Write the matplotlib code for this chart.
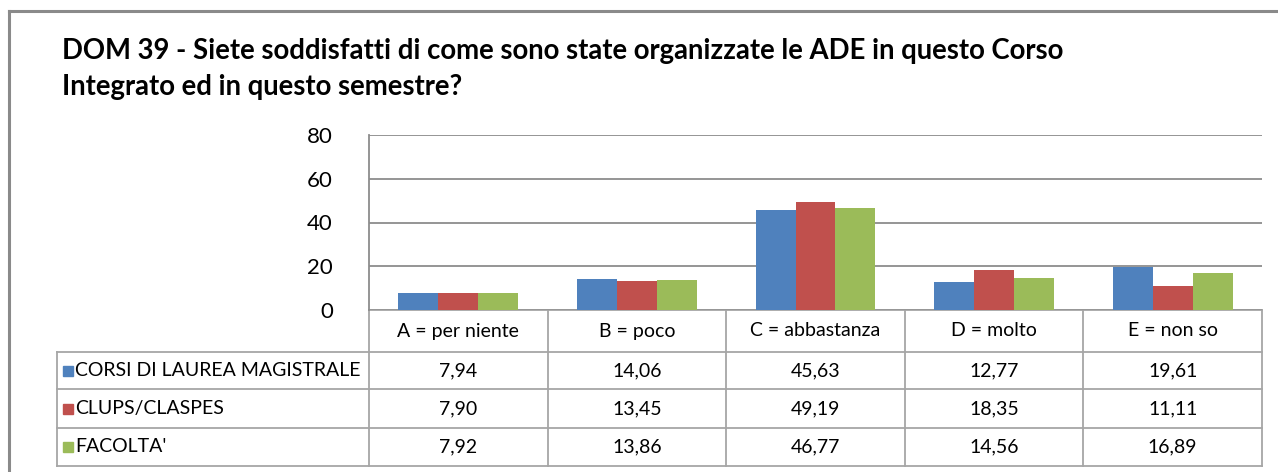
import matplotlib.pyplot as plt
from matplotlib.transforms import blended_transform_factory

categories = ["A = per niente", "B = poco", "C = abbastanza", "D = molto", "E = non so"]
series_names = ["CORSI DI LAUREA MAGISTRALE", "CLUPS/CLASPES", "FACOLTA'"]
corsi = [7.94, 14.06, 45.63, 12.77, 19.61]
clups = [7.90, 13.45, 49.19, 18.35, 11.11]
facolta = [7.92, 13.86, 46.77, 14.56, 16.89]
colors = ["#4F81BD", "#C0504D", "#9BBB59"]
title = ("DOM 39 - Siete soddisfatti di come sono state organizzate le ADE in questo Corso\n"
         "Integrato ed in questo semestre?")

W, H = 1278, 472
plt.rcParams['font.family'] = ['Lato', 'DejaVu Sans']
fig = plt.figure(figsize=(W / 100, H / 100), dpi=100)

# full-figure overlay in pixel coordinates for the frame, title and data table
over = fig.add_axes([0, 0, 1, 1])
over.set_xlim(0, W)
over.set_ylim(H, 0)
over.axis('off')

# plot area
left, right, top, bottom = 369, 1262, 135, 310
ax = fig.add_axes([left / W, (H - bottom) / H, (right - left) / W, (bottom - top) / H])
grid_c = "#8c8c8c"
n = len(categories)
bw = 0.2235
for k, vals in enumerate([corsi, clups, facolta]):
    xs = [i + (k - 1) * bw for i in range(n)]
    ax.bar(xs, vals, width=bw, color=colors[k], zorder=2)
ax.set_xlim(-0.5, n - 0.5)
ax.set_ylim(0, 80)
ax.set_yticks(range(0, 81, 20))
ax.tick_params(axis='y', length=0, labelsize=16, pad=26)
ax.set_xticks([])
ax.yaxis.grid(True, color=grid_c, linewidth=1.3)
ax.set_axisbelow(True)
for s in ['top', 'right', 'bottom']:
    ax.spines[s].set_visible(False)
ax.spines['left'].set_color(grid_c)
ax.spines['left'].set_linewidth(1.3)

# chart frame (left and top edges)
over.plot([9, 9], [11, H], color="#8a8a8a", lw=2.2)
over.plot([9, W], [11, 11], color="#8a8a8a", lw=2.2)

over.text(62, 69, title, fontsize=19.8, fontweight='bold', va='center', ha='left',
          linespacing=1.52)

# data table under the plot area
tr = blended_transform_factory(ax.transData, over.transData)
line_c = "#a6a6a6"
rows_y = [310, 352, 389, 428, 466]
tab_left = 57
for j, y in enumerate(rows_y):
    if j == 0:
        over.plot([left, right], [y, y], color=line_c, lw=1.3)
    else:
        over.plot([tab_left, right], [y, y], color=line_c, lw=1.3)
for i in range(n + 1):
    ax_x = i - 0.5
    over.plot([ax_x, ax_x], [rows_y[0], rows_y[-1]], color=line_c, lw=1.3, transform=tr)
over.plot([tab_left, tab_left], [rows_y[1], rows_y[-1]], color=line_c, lw=1.3)

fs = 14
for i, cat in enumerate(categories):
    over.text(i, (rows_y[0] + rows_y[1]) / 2, cat, transform=tr, ha='center', va='center',
              fontsize=fs)
for k, (name, vals) in enumerate(zip(series_names, [corsi, clups, facolta])):
    yc = (rows_y[k + 1] + rows_y[k + 2]) / 2
    over.add_patch(plt.Rectangle((63, yc - 5), 10, 10, color=colors[k]))
    over.text(75, yc, name, ha='left', va='center', fontsize=fs)
    for i, v in enumerate(vals):
        over.text(i, yc, f"{v:.2f}".replace('.', ','), transform=tr, ha='center',
                  va='center', fontsize=fs)

fig.savefig("out.png", dpi=100)
